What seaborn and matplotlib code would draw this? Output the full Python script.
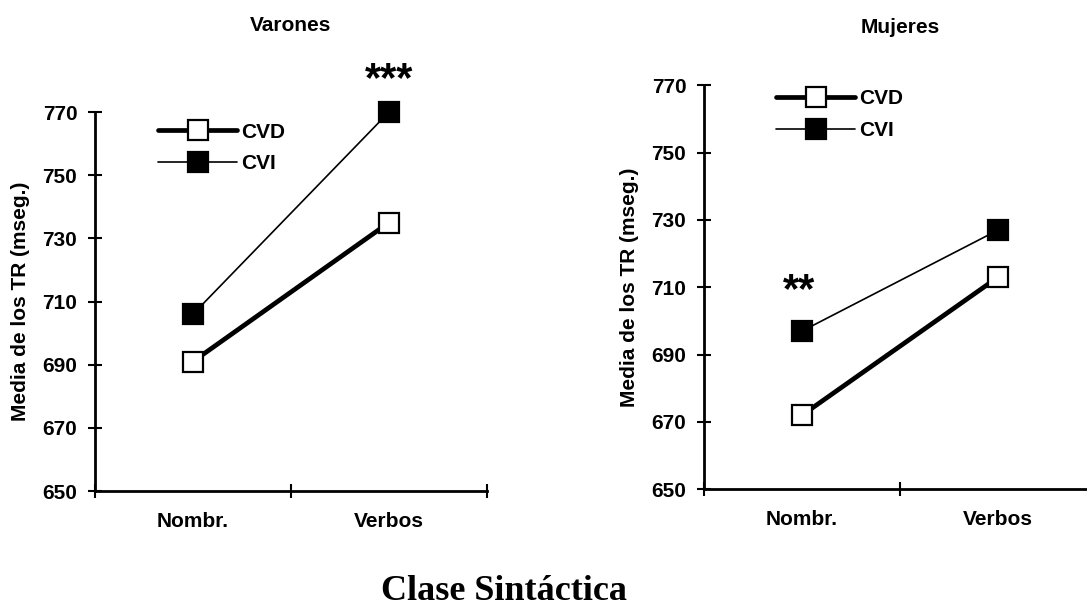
import matplotlib
matplotlib.use('Agg')
import matplotlib.pyplot as plt
import seaborn as sns
import pandas as pd

# ---- data ----
categories = ['Nombr.', 'Verbos']
series = ['CVD', 'CVI']
varones_cvd = [691, 735]
varones_cvi = [706, 770]
mujeres_cvd = [672, 713]
mujeres_cvi = [697, 727]
yticks = [650, 670, 690, 710, 730, 750, 770]
panel_titles = ['Varones', 'Mujeres']
ylabel_text = 'Media de los TR (mseg.)'
xlabel_text = 'Clase Sintáctica'
sig_varones = ('***', 'Verbos', 'CVI')
sig_mujeres = ('**', 'Nombr.', 'CVI')

sns.set_style('white')
plt.rcParams['font.family'] = ['Liberation Sans', 'DejaVu Sans']
plt.rcParams['font.weight'] = 'bold'
for k in ['text.color', 'axes.labelcolor', 'xtick.color', 'ytick.color', 'axes.edgecolor']:
    plt.rcParams[k] = 'black'

W, H = 1087, 608
fig = plt.figure(figsize=(W / 100, H / 100), dpi=100)
ax1 = fig.add_axes([95 / W, 1 - 491 / H, 392 / W, 379 / H])
ax2 = fig.add_axes([704 / W, 1 - 489.3 / H, 392 / W, 404 / H])

styles = {
    'CVD': dict(lw=3.4, mfc='white'),
    'CVI': dict(lw=1.2, mfc='black'),
}

FS = 15

panels = [
    (ax1, panel_titles[0], {'CVD': varones_cvd, 'CVI': varones_cvi}, sig_varones,
     (0, 23), 58, (0.1607, 0.972)),
    (ax2, panel_titles[1], {'CVD': mujeres_cvd, 'CVI': mujeres_cvi}, sig_mujeres,
     (-2, 29), 38, (0.1837, 0.990)),
]

for ax, title, vals, sig, sig_off, tpad, leg_anchor in panels:
    for s in series:
        df = pd.DataFrame({'clase': categories, 'tr': vals[s]})
        sns.lineplot(data=df, x='clase', y='tr', ax=ax, sort=False, color='black',
                     lw=styles[s]['lw'], marker='s', markersize=14,
                     markerfacecolor=styles[s]['mfc'], markeredgecolor='black',
                     markeredgewidth=1.6, label=s, clip_on=False, zorder=3)
    ax.set_xlim(-0.5, 1.5)
    ax.set_ylim(650, 770)
    ax.set_yticks(yticks)
    ax.set_xticks([0, 1])
    ax.set_xticklabels(categories)
    ax.set_xticks([-0.5, 0.5, 1.5], minor=True)
    ax.tick_params(axis='x', which='major', length=0, pad=15, labelsize=FS)
    ax.tick_params(axis='x', which='minor', length=9.5, width=1.5, direction='inout',
                   bottom=True, color='black')
    ax.tick_params(axis='y', which='major', length=9.5, width=1.5, direction='inout',
                   left=True, pad=8, labelsize=FS, color='black')
    for lab in ax.get_xticklabels() + ax.get_yticklabels():
        lab.set_fontweight('bold')
    sns.despine(ax=ax)
    for sp in ['left', 'bottom']:
        ax.spines[sp].set_linewidth(2.0)
        ax.spines[sp].set_color('black')
    ax.set_xlabel('')
    ax.set_ylabel(ylabel_text, fontsize=FS, fontweight='bold', labelpad=9)
    ax.set_title(title, fontsize=FS, fontweight='bold', pad=tpad)
    ax.legend(loc='upper left', bbox_to_anchor=leg_anchor, frameon=False,
              borderpad=0, borderaxespad=0, handlelength=3.8, handletextpad=0.2,
              labelspacing=0.6, prop={'size': FS, 'weight': 'bold'})
    txt, cat, ser = sig
    i = categories.index(cat)
    ax.annotate(txt, xy=(i, vals[ser][i]), xytext=sig_off, textcoords='offset points',
                ha='center', va='center', fontsize=30, fontweight='bold',
                annotation_clip=False)

fig.text(504 / W, 1 - 600 / H, xlabel_text, ha='center', va='baseline',
         fontsize=26, fontweight='bold', family=['Liberation Serif', 'DejaVu Serif'])

fig.savefig('out.png', dpi=100, facecolor='white')
